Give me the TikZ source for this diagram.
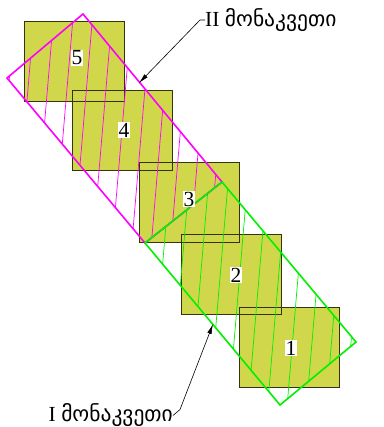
\documentclass[tikz,border=0pt]{standalone}
\usepackage{fontspec}
\setmainfont{Liberation Serif}
\newfontfamily\geofont{DejaVu Sans}
\usetikzlibrary{arrows.meta}
\definecolor{sqfill}{HTML}{D1D74B}
\definecolor{sqline}{HTML}{34340C}
\definecolor{secI}{HTML}{00F000}
\definecolor{secII}{HTML}{FF00FF}
\tikzset{
  sq/.style={fill=sqfill, minimum width=100pt, minimum height=80pt, inner sep=0pt, outer sep=0pt},
  sqedge/.style={draw=sqline, line width=0.9pt},
  num/.style={fill=white, inner sep=0.6pt, font=\fontsize{21.5}{21.5}\selectfont},
  cut/.style={line width=1.6pt, line join=miter},
  hatch/.style={line width=0.7pt},
  lbl/.style={font=\fontsize{21.5}{24}\selectfont, inner sep=0pt},
  lead/.style={-{Latex[length=10pt, width=4.5pt]}, line width=0.6pt},
}
\begin{document}
\begin{tikzpicture}[x=1pt, y=-1pt]
\useasboundingbox (0,0) rectangle (383,427);
% the five blocks
\node[sq] (sq5) at (74,61) {};
\node[sq] (sq4) at (122.5,130) {};
\node[sq] (sq3) at (189,202) {};
\node[sq] (sq2) at (231.5,274) {};
\node[sq] (sq1) at (289,347.5) {};
\foreach \i in {1,...,5}
  \draw[sqedge] (sq\i.south west) rectangle (sq\i.north east);
% section corners
\coordinate (mTop) at (83,14);
\coordinate (mLeft) at (7,78);
\coordinate (joinR) at (222,182);
\coordinate (joinL) at (145,243);
\coordinate (gRight) at (356,342);
\coordinate (gBot) at (280,405);
% hatching
\begin{scope}
  \clip (mTop) -- (joinR) -- (joinL) -- (mLeft) -- cycle;
  \foreach \x in {-3.5,16,...,320} \draw[hatch, secII] (\x,0) -- ++(-40,472);
\end{scope}
\begin{scope}
  \clip (joinR) -- (gRight) -- (gBot) -- (joinL) -- cycle;
  \foreach \x in {9.5,29,...,420} \draw[hatch, secI] (\x,0) -- ++(-40,472);
\end{scope}
\draw[cut, secII] (mTop) -- (joinR) -- (joinL) -- (mLeft) -- cycle;
\draw[cut, secI] (joinR) -- (gRight) -- (gBot) -- (joinL) -- cycle;
% numbers
\node[num] (n5) at (77,58) {5};
\node[num] (n4) at (124,130) {4};
\node[num] (n3) at (189,199) {3};
\node[num] (n2) at (236,275) {2};
\node[num] (n1) at (291,348) {1};
% labels
\coordinate (tipII) at (139,83);
\coordinate (tipI) at (213,324);
\node[lbl, anchor=east] (lblI) at (173,415.5) {I {\geofont მონაკვეთი}};
\node[lbl, anchor=west] (lblII) at (205,20) {II {\geofont მონაკვეთი}};
\draw[lead] (lblII.west) -- ++(-5,0) -- (tipII);
\draw[lead] (lblI.east) -- ++(7,-6) -- (tipI);
\end{tikzpicture}
\end{document}
